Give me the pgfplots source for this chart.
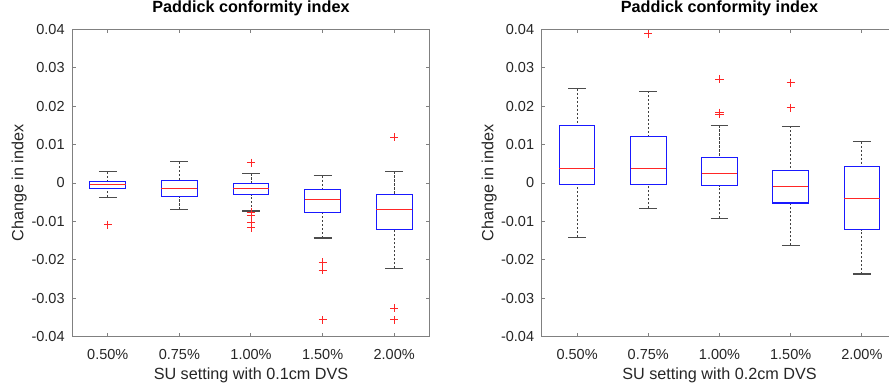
\documentclass[border=0pt]{standalone}
\usepackage{fontspec}
\setmainfont{Liberation Sans}
\usepackage{pgfplots}
\pgfplotsset{compat=1.18}
\usepgfplotslibrary{statistics}
\definecolor{axgray}{gray}{0.5}
\definecolor{txtgray}{gray}{0.15}
\definecolor{mlblue}{rgb}{0.1,0.1,1}
\definecolor{mlred}{rgb}{1,0.15,0.15}
\pgfplotsset{
  mlbox/.style={
    solid, color=mlblue, line width=0.55pt, mark=none,
    boxplot/draw direction=y,
    boxplot/box extend=0.5,
    boxplot/whisker extend=0.25,
    boxplot/every box/.style={color=mlblue, solid, line width=0.55pt},
    boxplot/every median/.style={color=mlred, solid, line width=0.45pt},
    boxplot/draw/lower whisker/.code={%
      \draw[color=black!75, line width=0.45pt, dash pattern=on 1.1pt off 0.9pt]
        (boxplot box cs:\pgfplotsboxplotvalue{lower whisker},0.5) --
        (boxplot box cs:\pgfplotsboxplotvalue{lower quartile},0.5);
      \draw[color=black!70, line width=0.6pt, solid]
        (boxplot whisker cs:\pgfplotsboxplotvalue{lower whisker},0) --
        (boxplot whisker cs:\pgfplotsboxplotvalue{lower whisker},1);
    },
    boxplot/draw/upper whisker/.code={%
      \draw[color=black!75, line width=0.45pt, dash pattern=on 1.1pt off 0.9pt]
        (boxplot box cs:\pgfplotsboxplotvalue{upper whisker},0.5) --
        (boxplot box cs:\pgfplotsboxplotvalue{upper quartile},0.5);
      \draw[color=black!70, line width=0.6pt, solid]
        (boxplot whisker cs:\pgfplotsboxplotvalue{upper whisker},0) --
        (boxplot whisker cs:\pgfplotsboxplotvalue{upper whisker},1);
    },
  },
  mlout/.style={only marks, color=mlred, mark=+, mark size=2pt,
    mark options={color=mlred, solid, line width=0.3pt}},
  mlaxis/.style={
    scale only axis, height=153.7pt, scaled y ticks=false, clip=false,
    boxplot/draw direction=y,
    xmin=0.5, xmax=5.5, ymin=-0.04, ymax=0.04,
    xtick={1,2,3,4,5}, xticklabels={0.50\%,0.75\%,1.00\%,1.50\%,2.00\%},
    ytick={-0.04,-0.03,-0.02,-0.01,0,0.01,0.02,0.03,0.04},
    yticklabels={-0.04,-0.03,-0.02,-0.01,0,0.01,0.02,0.03,0.04},
    tick align=inside, major tick length=1.75pt,
    axis line style={axgray, line width=0.5pt},
    every tick/.style={axgray, line width=0.5pt},
    tick label style={font=\fontsize{7.25}{8.5}\selectfont, text=txtgray, inner sep=0pt},
    xticklabel style={anchor=base, yshift=-11.3pt},
    yticklabel style={anchor=east, xshift=-3.5pt},
    label style={font=\fontsize{8.1}{9.5}\selectfont, text=txtgray, inner sep=0pt},
    xlabel style={at={(axis description cs:0.5,0)}, anchor=base, yshift=-21.5pt},
    ylabel style={at={(axis description cs:-0.1355,0.5)}, anchor=base},
    title style={font=\bfseries\fontsize{8.1}{9.5}\selectfont, text=black, inner sep=0pt,
      at={(axis description cs:0.5,1)}, anchor=base, yshift=2.65pt},
    ylabel={Change in index},
    title={Paddick conformity index},
  },
}
\begin{document}
\begin{tikzpicture}
\begin{axis}[mlaxis, width=179pt, at={(36pt,25.15pt)}, anchor=south west,
  xlabel={SU setting with 0.1cm DVS}]
\addplot[mlbox, boxplot prepared={draw position=1, lower whisker=-0.0037, lower quartile=-0.0014, median=-0.0003, upper quartile=0.0004, upper whisker=0.0029}] coordinates {};
\addplot[mlbox, boxplot prepared={draw position=2, lower whisker=-0.0069, lower quartile=-0.0035, median=-0.0013, upper quartile=0.0007, upper whisker=0.0055}] coordinates {};
\addplot[mlbox, boxplot prepared={draw position=3, lower whisker=-0.0073, lower quartile=-0.0031, median=-0.0013, upper quartile=-0.0001, upper whisker=0.0025}] coordinates {};
\addplot[mlbox, boxplot prepared={draw position=4, lower whisker=-0.0143, lower quartile=-0.0076, median=-0.0043, upper quartile=-0.0016, upper whisker=0.0019}] coordinates {};
\addplot[mlbox, boxplot prepared={draw position=5, lower whisker=-0.0222, lower quartile=-0.0121, median=-0.0069, upper quartile=-0.0030, upper whisker=0.0030}] coordinates {};
\addplot[mlout] coordinates {
  (1,-0.0108)
  (3,0.0053) (3,-0.0075) (3,-0.0083) (3,-0.0102) (3,-0.0116)
  (4,-0.0206) (4,-0.0227) (4,-0.0356)
  (5,0.0119) (5,-0.0326) (5,-0.0356)};
\end{axis}
\begin{axis}[mlaxis, width=178pt, at={(270.75pt,25.15pt)}, anchor=south west,
  xlabel={SU setting with 0.2cm DVS}]
\addplot[mlbox, boxplot prepared={draw position=1, lower whisker=-0.0141, lower quartile=-0.0003, median=0.0038, upper quartile=0.0149, upper whisker=0.0245}] coordinates {};
\addplot[mlbox, boxplot prepared={draw position=2, lower whisker=-0.0066, lower quartile=-0.0003, median=0.0038, upper quartile=0.0120, upper whisker=0.0239}] coordinates {};
\addplot[mlbox, boxplot prepared={draw position=3, lower whisker=-0.0092, lower quartile=-0.0007, median=0.0026, upper quartile=0.0067, upper whisker=0.0150}] coordinates {};
\addplot[mlbox, boxplot prepared={draw position=4, lower whisker=-0.0162, lower quartile=-0.0052, median=-0.0010, upper quartile=0.0033, upper whisker=0.0148}] coordinates {};
\addplot[mlbox, boxplot prepared={draw position=5, lower whisker=-0.0237, lower quartile=-0.0122, median=-0.0040, upper quartile=0.0043, upper whisker=0.0108}] coordinates {};
\addplot[mlout] coordinates {
  (2,0.0389)
  (3,0.0271) (3,0.0183) (3,0.0180)
  (4,0.0261) (4,0.0196)};
\end{axis}
\pgfresetboundingbox
\path (0,0) rectangle (444.5pt,193.5pt);
\end{tikzpicture}
\end{document}
